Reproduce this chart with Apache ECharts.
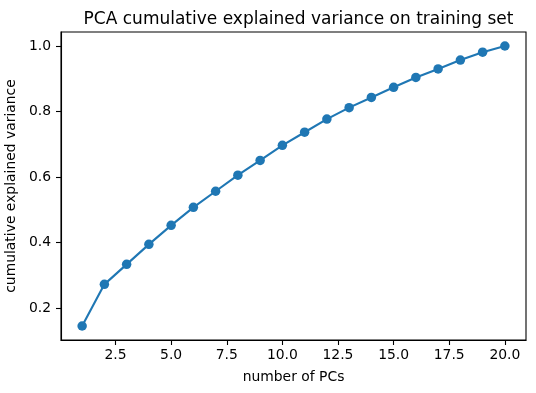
<!DOCTYPE html>
<html><head><meta charset="utf-8">
<script src="https://cdn.jsdelivr.net/npm/echarts@6/dist/echarts.min.js"></script>
<style>html,body{margin:0;padding:0;background:#fff}#c{width:536px;height:393px}</style>
</head><body><div id="c"></div>
<script>
const pcs = [1,2,3,4,5,6,7,8,9,10,11,12,13,14,15,16,17,18,19,20];
const cumVar = [0.146,0.273,0.334,0.395,0.453,0.508,0.557,0.606,0.651,0.697,0.737,0.777,0.812,0.843,0.874,0.904,0.930,0.957,0.981,1.0];
const xTicks = [2.5,5.0,7.5,10.0,12.5,15.0,17.5,20.0];
const yTicks = [0.2,0.4,0.6,0.8,1.0];
const titleText = 'PCA cumulative explained variance on training set';
const xName = 'number of PCs';
const yName = 'cumulative explained variance';

const font = 'DejaVu Sans';
const chart = echarts.init(document.getElementById('c'), null, {renderer:'canvas'});
const xr = 20 - 1, yr = Math.max(...cumVar) - Math.min(...cumVar);
chart.setOption({
  animation:false,
  backgroundColor:'#fff',
  title:{text:titleText,left:293.5,textAlign:'center',top:6,textStyle:{fontFamily:font,fontSize:17,fontWeight:'normal',color:'#000'}},
  grid:{left:61,right:10,top:32,bottom:53,show:true,borderColor:'#000',borderWidth:1.1,backgroundColor:'transparent',containLabel:false,outerBoundsMode:'none'},
  xAxis:{type:'value',min:1-0.05*xr,max:20+0.05*xr,
    name:xName,nameLocation:'middle',nameGap:30,nameTextStyle:{fontFamily:font,fontSize:13.9,color:'#000'},
    axisLine:{show:true,lineStyle:{color:'#000',width:1.1}},
    axisTick:{show:true,length:5,lineStyle:{color:'#000',width:1.1},customValues:xTicks},
    axisLabel:{fontFamily:font,fontSize:13.9,color:'#000',margin:8,customValues:xTicks,formatter:v=>v.toFixed(1)},
    splitLine:{show:false}},
  yAxis:{type:'value',min:Math.min(...cumVar)-0.05*yr,max:Math.max(...cumVar)+0.05*yr,
    name:yName,nameLocation:'middle',nameGap:39,nameRotate:90,nameTextStyle:{fontFamily:font,fontSize:13.9,color:'#000'},
    axisLine:{show:true,lineStyle:{color:'#000',width:1.1}},
    axisTick:{show:true,length:5,lineStyle:{color:'#000',width:1.1},customValues:yTicks},
    axisLabel:{fontFamily:font,fontSize:13.9,color:'#000',margin:10,customValues:yTicks,formatter:v=>v.toFixed(1)},
    splitLine:{show:false}},
  series:[{type:'line',data:pcs.map((p,i)=>[p,cumVar[i]]),
    symbol:'circle',symbolSize:9.5,showSymbol:true,
    lineStyle:{color:'#1f77b4',width:2.1},itemStyle:{color:'#1f77b4',borderWidth:0}}]
});
</script></body></html>
